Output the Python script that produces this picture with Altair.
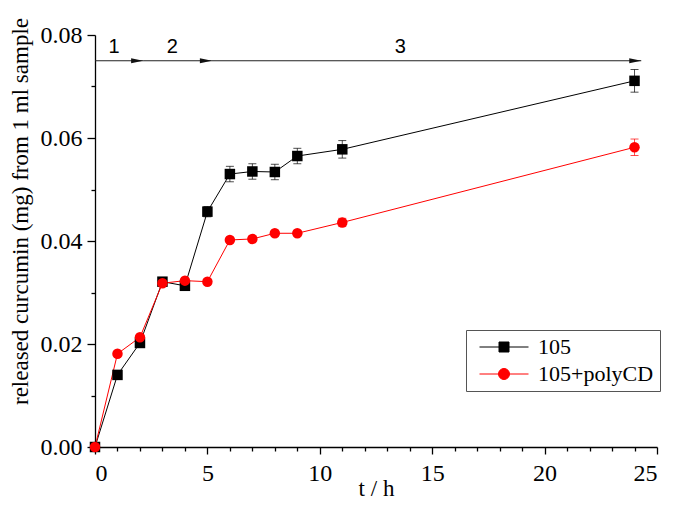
import altair as alt
import pandas as pd

# ---- data ----
t = [0, 1, 2, 3, 4, 5, 6, 7, 8, 9, 11, 24]
s105 = [0.0, 0.0140, 0.0202, 0.0321, 0.0313, 0.0457, 0.0530, 0.0535, 0.0534, 0.0565, 0.0578, 0.0711]
e105 = [0.0, 0.0004, 0.0004, 0.0005, 0.0005, 0.0010, 0.0015, 0.0015, 0.0015, 0.0015, 0.0017, 0.0022]
spoly = [0.0, 0.0181, 0.0213, 0.0318, 0.0323, 0.0321, 0.0402, 0.0404, 0.0415, 0.0415, 0.0436, 0.0582]
epoly = [0.0, 0.0004, 0.0004, 0.0004, 0.0004, 0.0004, 0.0005, 0.0005, 0.0005, 0.0005, 0.0008, 0.0016]
series = ["105", "105+polyCD"]

# stage arrows
arrow_start = [0.0, 2.14, 5.2]
arrow_end = [2.14, 5.2, 24.3]
arrow_y = [0.075, 0.075, 0.075]
stage_label = ["1", "2", "3"]
stage_x = [0.85, 3.44, 13.58]
stage_y = [0.0777, 0.0777, 0.0777]

x_ticks = list(range(0, 26))
y_ticks = [i / 100 for i in range(0, 9)]

rows = []
for i, tv in enumerate(t):
    rows.append({"t": tv, "v": s105[i], "lo": s105[i] - e105[i], "hi": s105[i] + e105[i], "s": series[0]})
for i, tv in enumerate(t):
    rows.append({"t": tv, "v": spoly[i], "lo": spoly[i] - epoly[i], "hi": spoly[i] + epoly[i], "s": series[1]})
df = pd.DataFrame(rows)

arrows = pd.DataFrame({"x0": arrow_start, "x1": arrow_end, "y": arrow_y})
labels = pd.DataFrame({"x": stage_x, "y": stage_y, "txt": stage_label})

SERIF = "Liberation Serif"
LABEL_SIZE = 24

xscale = alt.Scale(domain=[0, 25], nice=False, zero=False)
yscale = alt.Scale(domain=[0, 0.08], nice=False)

xaxis = alt.Axis(
    values=x_ticks,
    labelExpr="datum.value % 5 === 0 ? datum.label : ''",
    tickSize={"condition": {"test": "datum.value % 5 === 0", "value": 7}, "value": 4},
    labelOverlap=False,
    labelFont=SERIF,
    labelFontSize=LABEL_SIZE,
    title="t / h",
    labelPadding=7,
    titleY=48,
    titleBaseline="alphabetic",
)
yaxis = alt.Axis(
    values=y_ticks,
    labelExpr="round(datum.value*100) % 2 === 0 ? format(datum.value, '.2f') : ''",
    tickSize={"condition": {"test": "round(datum.value*100) % 2 === 0", "value": 8}, "value": 4},
    labelOverlap=False,
    labelFont=SERIF,
    labelFontSize=LABEL_SIZE,
    title="released curcumin (mg) from 1 ml sample",
    labelPadding=5,
    titleX=-75,
    titleY=176,
    titleAlign="center",
    titleBaseline="middle",
)

X = lambda f: alt.X(f, scale=xscale, axis=xaxis)
Y = lambda f: alt.Y(f, scale=yscale, axis=yaxis)

cscale = alt.Scale(domain=series, range=["black", "red"])

# legend symbols: line + marker (path units = 10 px)
sq_path = "M-0.35,0H4.55M1.6,-0.5H2.6V0.5H1.6Z"
ci_path = "M-0.35,0H4.55M2.65,0A0.55,0.55,0,1,1,1.55,0A0.55,0.55,0,1,1,2.65,0Z"

leg = alt.Legend(
    title=None,
    orient="none",
    legendX=371,
    legendY=295,
    symbolSize=400,
    symbolStrokeWidth=1,
    symbolOpacity=1,
    labelFont=SERIF,
    labelFontSize=22,
    labelColor="black",
    strokeColor="#555",
    padding=6,
    rowPadding=5,
    labelOffset=44,
)
color_enc = alt.Color("s:N", scale=cscale, legend=leg)

base = alt.Chart(df)

lines = base.mark_line(strokeWidth=1).encode(
    x=X("t:Q"), y=Y("v:Q"), color=color_enc, detail="s:N", order="t:Q",
)
err_rule = base.mark_rule(strokeWidth=1, opacity=0.7).encode(
    x=X("t:Q"), y=Y("lo:Q"), y2="hi:Q", color=color_enc,
)
err_lo = base.mark_tick(orient="horizontal", size=8, thickness=1, opacity=0.7).encode(
    x=X("t:Q"), y=Y("lo:Q"), color=color_enc,
)
err_hi = base.mark_tick(orient="horizontal", size=8, thickness=1, opacity=0.7).encode(
    x=X("t:Q"), y=Y("hi:Q"), color=color_enc,
)
pts_black = alt.Chart(df).transform_filter(alt.datum.s == series[0]).mark_point(
    shape="square", filled=True, size=110, opacity=1
).encode(x=X("t:Q"), y=Y("v:Q"), color=color_enc)
pts_red = alt.Chart(df).transform_filter(alt.datum.s == series[1]).mark_point(
    shape="circle", filled=True, size=110, opacity=1
).encode(x=X("t:Q"), y=Y("v:Q"), color=color_enc)

legend_pts = alt.Chart(df).mark_point(filled=True, opacity=0).encode(
    x=X("t:Q"), y=Y("v:Q"),
    color=color_enc,
    shape=alt.Shape("s:N", scale=alt.Scale(domain=series, range=[sq_path, ci_path]), legend=leg),
)

arrow_lines = alt.Chart(arrows).mark_rule(color="#222", strokeWidth=1).encode(
    x=X("x0:Q"), x2="x1:Q", y=Y("y:Q")
)
arrow_heads = alt.Chart(arrows).mark_point(
    shape="M-1,-0.42L1,0L-1,0.42Z", filled=True, color="#111", size=144, xOffset=-6, opacity=1
).encode(x=X("x1:Q"), y=Y("y:Q"))
stage_text = alt.Chart(labels).mark_text(
    font="Liberation Sans", fontSize=20, color="black", baseline="middle"
).encode(x=X("x:Q"), y=Y("y:Q"), text="txt:N")

chart = alt.layer(
    lines, err_rule, err_lo, err_hi, pts_black, pts_red, legend_pts,
    arrow_lines, arrow_heads, stage_text
).properties(
    width=562, height=412,
    autosize=alt.AutoSizeParams(type="none"),
    padding={"left": 87, "top": 27, "right": 10, "bottom": 53},
).configure_view(stroke=None).configure_axis(
    grid=False,
    domainColor="black",
    domainWidth=1.3,
    tickColor="black",
    tickWidth=1.3,
    labelOverlap=False,
    labelFont=SERIF,
    labelFontSize=LABEL_SIZE,
    labelColor="black",
    titleFont=SERIF,
    titleFontSize=23,
    titleFontWeight="normal",
    titleColor="black",
)

chart.save("out.html", embed_options={"renderer": "svg", "actions": False})
